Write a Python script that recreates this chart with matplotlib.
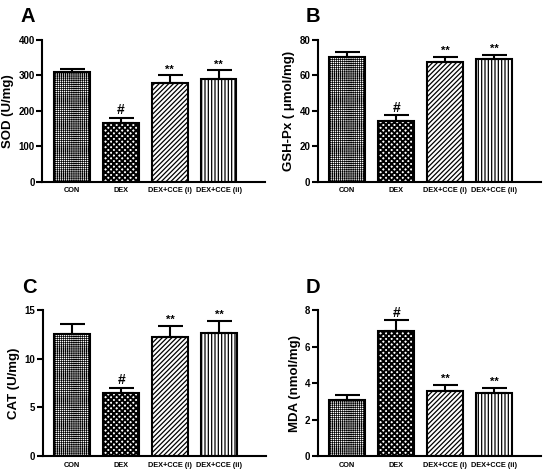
import matplotlib
matplotlib.use("Agg")
import matplotlib.pyplot as plt

plt.rcParams['font.family'] = ['Liberation Sans', 'DejaVu Sans']
plt.rcParams['font.weight'] = 'bold'
plt.rcParams['hatch.linewidth'] = 0.9

groups = ["CON", "DEX", "DEX+CCE (i)", "DEX+CCE (ii)"]

sod = [311, 165, 278, 291]
sod_err = [7, 15, 22, 23]
gsh = [70.5, 34.5, 67.5, 69]
gsh_err = [2.5, 3.0, 3.0, 2.5]
cat = [12.6, 6.5, 12.2, 12.7]
cat_err = [1.0, 0.5, 1.2, 1.2]
mda = [3.05, 6.85, 3.55, 3.45]
mda_err = [0.3, 0.6, 0.35, 0.3]

marks = ["", "#", "**", "**"]

hatches = ["++++++++", "xxxxxx", "///////", "|||||"]
hatch_lw = [0.5, 1.4, 0.9, 0.9]

panels = [
    ("A", sod, sod_err, "SOD (U/mg)", [0, 100, 200, 300, 400], 400),
    ("B", gsh, gsh_err, "GSH-Px ( \u03bcmol/mg)", [0, 20, 40, 60, 80], 80),
    ("C", cat, cat_err, "CAT (U/mg)", [0, 5, 10, 15], 15),
    ("D", mda, mda_err, "MDA (nmol/mg)", [0, 2, 4, 6, 8], 8),
]

# axes boxes in figure fractions [left, bottom, width, height]
boxes = [
    [0.077, 0.617, 0.405, 0.299],
    [0.578, 0.617, 0.405, 0.299],
    [0.078, 0.040, 0.405, 0.307],
    [0.578, 0.040, 0.405, 0.307],
]
letter_pos = [(0.038, 0.985), (0.556, 0.985), (0.040, 0.415), (0.556, 0.415)]

fig = plt.figure(figsize=(5.5, 4.75), dpi=100)

for (letter, vals, errs, ylab, ticks, ymax), box, lp in zip(panels, boxes, letter_pos):
    ax = fig.add_axes(box)
    x = range(len(groups))
    for i in x:
        plt.rcParams['hatch.linewidth'] = hatch_lw[i]
        ax.bar(i, vals[i], width=0.73, color="white", edgecolor="black",
               linewidth=1.5, hatch=hatches[i], zorder=2)
        ax.errorbar(i, vals[i], yerr=[[0], [errs[i]]], fmt="none", ecolor="black",
                    elinewidth=1.5, capsize=9, capthick=1.5, zorder=3)
        if marks[i]:
            ax.annotate(marks[i], (i, vals[i] + errs[i]), xytext=(0, 0.5),
                        textcoords="offset points", ha="center", va="bottom",
                        fontsize=10 if marks[i] == "#" else 8, fontweight="bold")
    ax.set_xlim(-0.6, 3.95)
    ax.set_ylim(0, ymax)
    ax.set_yticks(ticks)
    ax.set_xticks(list(x))
    ax.set_xticklabels(groups, fontsize=5.3, fontweight="bold")
    ax.tick_params(axis="x", length=0, pad=4)
    ax.tick_params(axis="y", length=4, width=1.5, labelsize=7, pad=1.5)
    for t in ax.get_yticklabels():
        t.set_fontweight("bold")
    ax.spines["top"].set_visible(False)
    ax.spines["right"].set_visible(False)
    ax.spines["left"].set_linewidth(1.5)
    ax.spines["bottom"].set_linewidth(1.5)
    ax.set_ylabel(ylab, fontsize=9.5, fontweight="bold", labelpad=3)
    fig.text(lp[0], lp[1], letter, fontsize=14.5, fontweight="bold", va="top")

fig.savefig("out.png", dpi=100)
